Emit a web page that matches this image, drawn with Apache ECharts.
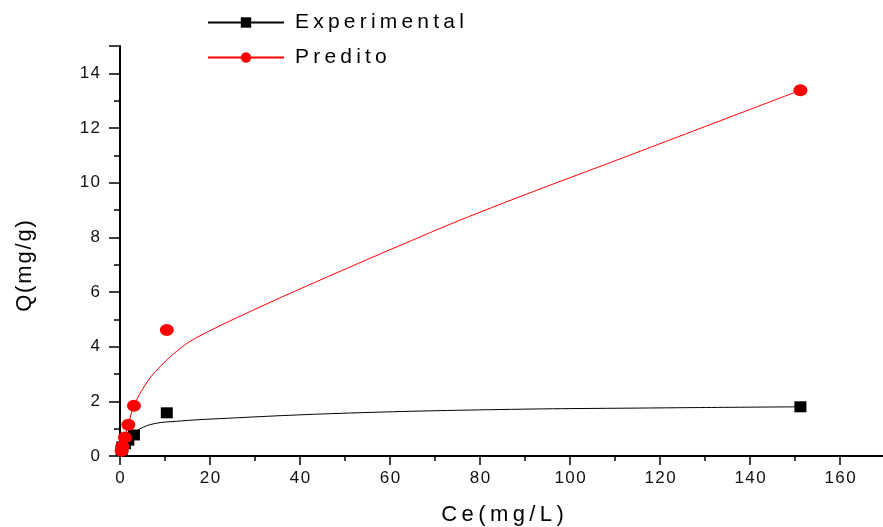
<!DOCTYPE html>
<html>
<head>
<meta charset="utf-8">
<script src="https://cdn.jsdelivr.net/npm/echarts@6/dist/echarts.min.js"></script>
<style>
  html, body { margin: 0; padding: 0; background: #fff; }
  #chart { width: 883px; height: 527px; }
</style>
</head>
<body>
<div id="chart"></div>
<script>
// Measured points: equilibrium concentration Ce (mg/L)
const ce = [0.37, 0.5, 1.1, 1.85, 3.1, 10.4, 151.2];
// Adsorbed quantity, experimental and predicted (mg/g)
const qExperimental = [0.2, 0.33, 0.45, 0.58, 0.77, 1.58, 1.8];
const qPredito = [0.19, 0.34, 0.68, 1.14, 1.84, 4.61, 13.38];

// Fitted curves, sampled as [Ce, Q]
const curveExperimentalCe = [0.37, 0.5, 1.1, 1.85, 3.1, 4.4, 7.8, 12.6, 20, 48.9, 84.4, 120, 151.2];
const curveExperimentalQ  = [0.2, 0.33, 0.45, 0.58, 0.78, 0.99, 1.19, 1.27, 1.35, 1.56, 1.7, 1.76, 1.8];
const curvePreditoCe = [0.37, 0.5, 1.1, 1.85, 3.1, 5.6, 8.5, 13.5, 17.8, 31.1, 43.7, 62.2, 80, 115.6, 151.2];
const curvePreditoQ  = [0.19, 0.34, 0.68, 1.14, 1.84, 2.6, 3.2, 3.95, 4.4, 5.45, 6.38, 7.7, 8.92, 11.15, 13.38];

const seriesNames = ['Experimental', 'Predito'];
const xTitle = 'Ce(mg/L)';
const yTitle = 'Q(mg/g)';

const zip = (a, b) => a.map((v, i) => [v, b[i]]);
// widen glyph spacing with thin spaces
const spaced = (s, sp) => s.split('').join(sp);

const FONT = '"Liberation Sans", Arial, sans-serif';

const chart = echarts.init(document.getElementById('chart'), null, { renderer: 'canvas' });

chart.setOption({
  animation: false,
  backgroundColor: '#ffffff',
  grid: { left: 120, right: -2, top: 46, bottom: 71, containLabel: false, outerBoundsMode: 'none' },
  legend: {
    data: seriesNames,
    orient: 'vertical',
    left: 202,
    top: 7,
    itemWidth: 76,
    itemHeight: 13,
    itemGap: 14,
    formatter: name => spaced(name, '\u2009'),
    textStyle: { fontFamily: FONT, fontSize: 21, color: '#000', padding: [0, 0, 0, 6] }
  },
  xAxis: {
    type: 'value',
    min: 0,
    max: 170,
    interval: 20,
    name: spaced(xTitle, '\u2009'),
    nameLocation: 'middle',
    nameGap: 48,
    nameTextStyle: { fontFamily: FONT, fontSize: 22, color: '#000' },
    axisLine: { show: true, onZero: false, lineStyle: { color: '#000', width: 2 } },
    axisTick: { show: true, inside: false, length: 9, lineStyle: { color: '#000', width: 1.5 } },
    minorTick: { show: true, splitNumber: 2, length: 5, lineStyle: { color: '#000', width: 1.5 } },
    axisLabel: {
      margin: 14,
      fontFamily: FONT, fontSize: 17, color: '#111',
      formatter: v => (v > 160 ? '' : spaced(String(v), '\u200A'))
    },
    splitLine: { show: false }
  },
  yAxis: {
    type: 'value',
    min: 0,
    max: 15,
    interval: 2,
    name: spaced(yTitle, '\u200A'),
    nameLocation: 'middle',
    nameGap: 84,
    nameRotate: 90,
    nameTextStyle: { fontFamily: FONT, fontSize: 22, color: '#000', padding: [0, 30, 0, 0] },
    axisLine: { show: true, onZero: false, lineStyle: { color: '#000', width: 2 } },
    axisTick: { show: true, inside: false, length: 11, lineStyle: { color: '#000', width: 1.5 } },
    minorTick: { show: true, splitNumber: 2, length: 6, lineStyle: { color: '#000', width: 1.5 } },
    axisLabel: {
      margin: 20,
      fontFamily: FONT, fontSize: 17, color: '#111',
      formatter: v => (v > 14 ? '' : spaced(String(v), '\u200A'))
    },
    splitLine: { show: false }
  },
  series: [
    {
      name: 'Experimental',
      type: 'line',
      data: zip(curveExperimentalCe, curveExperimentalQ),
      smooth: 0.4,
      symbol: 'rect',
      showSymbol: false,
      itemStyle: { color: '#000' },
      lineStyle: { color: '#000', width: 1 },
      z: 2
    },
    {
      name: 'Predito',
      type: 'line',
      data: zip(curvePreditoCe, curvePreditoQ),
      smooth: 0.4,
      symbol: 'circle',
      showSymbol: false,
      itemStyle: { color: '#ff0000' },
      lineStyle: { color: '#ff0000', width: 1 },
      z: 2
    },
    {
      name: 'Experimental',
      type: 'scatter',
      data: zip(ce, qExperimental),
      symbol: 'rect',
      symbolSize: [12, 11],
      itemStyle: { color: '#000', opacity: 1 },
      z: 3
    },
    {
      name: 'Predito',
      type: 'scatter',
      data: zip(ce, qPredito),
      symbol: 'circle',
      symbolSize: [14, 12],
      itemStyle: { color: '#ff0000', opacity: 1 },
      z: 4
    }
  ]
});
</script>
</body>
</html>
